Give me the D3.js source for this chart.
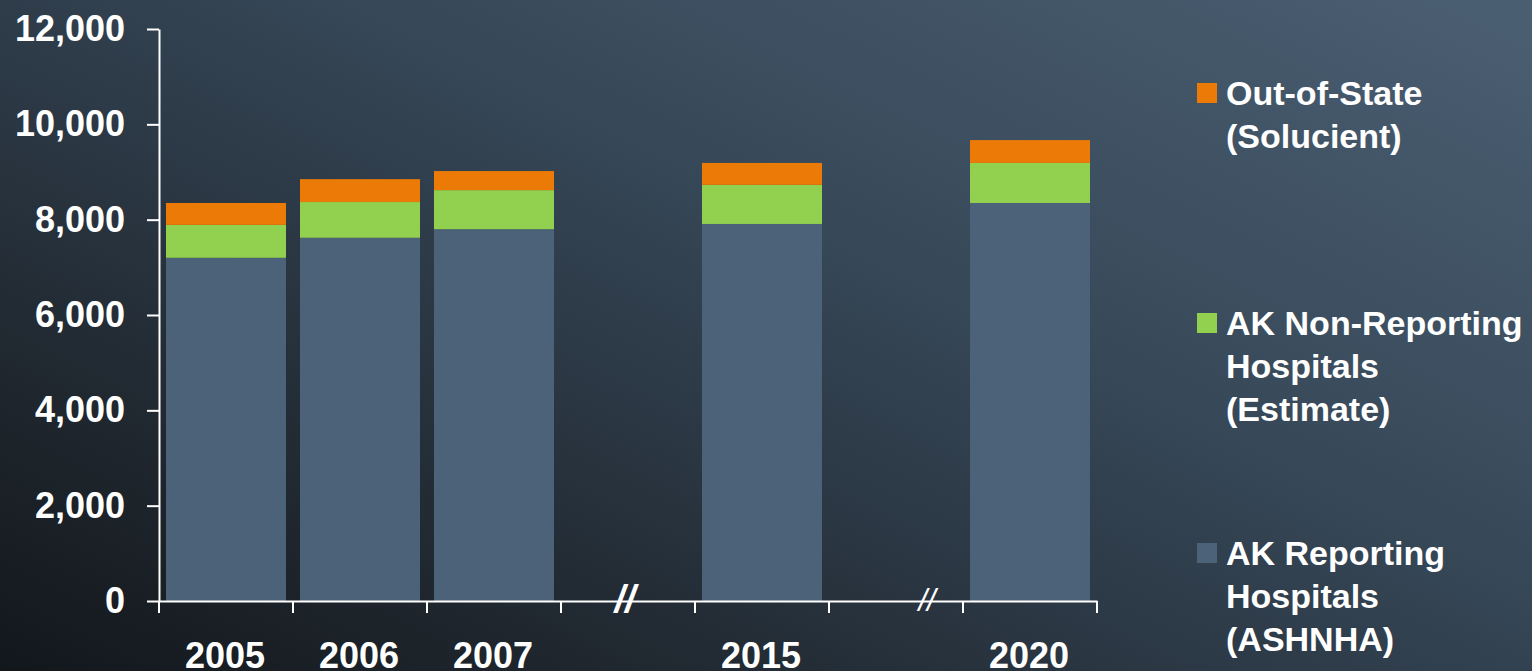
<!DOCTYPE html>
<html>
<head>
<meta charset="utf-8">
<script src="https://cdn.jsdelivr.net/npm/d3@7"></script>
<style>
  html, body { margin:0; padding:0; background:#1b2128; }
  svg { display:block; }
  text { font-family:"Liberation Sans", Arial, sans-serif; font-weight:bold; fill:#ffffff; }
</style>
</head>
<body>
<svg id="chart" width="1532" height="671"></svg>
<script>
// categories on the x axis (gaps hold the "//" break marks)
const slots = ["2005","2006","2007","gap1","2015","gap2","2020"];
const years = ["2005","2006","2007","2015","2020"];
// series
const reporting    = [7200, 7620, 7800, 7910, 8350];
const nonReporting = [ 690,  750,  820,  820,  840];
const outOfState   = [ 460,  480,  400,  460,  480];
const yTicks = [0,2000,4000,6000,8000,10000,12000];
const seriesKeys = ["rep","non","out"];
const colors = {rep:"#4c6279", non:"#92d050", out:"#eb7a07"};
const legendLines = {
  out:["Out-of-State","(Solucient)"],
  non:["AK Non-Reporting","Hospitals","(Estimate)"],
  rep:["AK Reporting","Hospitals","(ASHNHA)"]
};

const W=1532, H=671;
const svg = d3.select("#chart");

// background gradient, dark at bottom left, lighter towards top right
const defs = svg.append("defs");
const grad = defs.append("linearGradient").attr("id","bg")
  .attr("gradientUnits","userSpaceOnUse")
  .attr("x1",0).attr("y1",H).attr("x2",567).attr("y2",-477);
grad.append("stop").attr("offset",0).attr("stop-color","#12171c");
grad.append("stop").attr("offset",0.19).attr("stop-color","#1e252c");
grad.append("stop").attr("offset",0.47).attr("stop-color","#2f3d4b");
grad.append("stop").attr("offset",0.62).attr("stop-color","#384a5a");
grad.append("stop").attr("offset",1).attr("stop-color","#4b5f73");
svg.append("rect").attr("width",W).attr("height",H).attr("fill","url(#bg)");

const x = d3.scaleBand().domain(slots).range([159,1097])
  .paddingInner(0.1045).paddingOuter(0.0522);
const y = d3.scaleLinear().domain([0,12000]).range([601,29]);

const rows = years.map((yr,i)=>({year:yr, rep:reporting[i], non:nonReporting[i], out:outOfState[i]}));
const stacked = d3.stack().keys(seriesKeys)(rows);

svg.append("g").selectAll("g")
  .data(stacked)
  .join("g")
  .attr("fill",d=>colors[d.key])
  .selectAll("rect")
  .data(d=>d)
  .join("rect")
  .attr("x",d=>x(d.data.year))
  .attr("width",x.bandwidth())
  .attr("y",d=>y(d[1]))
  .attr("height",d=>y(d[0])-y(d[1]));

// y axis
const yAxis = svg.append("g")
  .attr("transform","translate(159,0)")
  .call(d3.axisLeft(y).tickValues(yTicks).tickFormat(d3.format(",")).tickSize(12).tickSizeOuter(0).tickPadding(22));
yAxis.selectAll("line, path").attr("stroke","#ffffff").attr("stroke-width",2);
yAxis.selectAll("text").style("font-size","36px").attr("fill","#fff");

// x axis: labels at band centres, ticks on band boundaries
const xAxis = svg.append("g")
  .attr("transform","translate(0,601)")
  .call(d3.axisBottom(x).tickSize(0).tickSizeOuter(0).tickPadding(41)
    .tickFormat(d=>d.startsWith("gap")?"":d));
xAxis.select("path").attr("stroke","#ffffff").attr("stroke-width",2);
xAxis.selectAll("text").style("font-size","36px").attr("fill","#fff").attr("dx","-1");
const bounds = d3.range(slots.length+1).map(i=>x.range()[0]+i*x.step());
xAxis.selectAll("line.bound")
  .data(bounds)
  .join("line")
  .attr("class","bound")
  .attr("x1",d=>d).attr("x2",d=>d)
  .attr("y1",0).attr("y2",12)
  .attr("stroke","#ffffff").attr("stroke-width",2);

// break marks
svg.append("text")
  .attr("x",x("gap1")+x.bandwidth()/2-3).attr("y",612)
  .attr("text-anchor","middle")
  .style("font-size","38px").style("font-style","italic")
  .text("//");
svg.append("text")
  .attr("x",x("gap2")+x.bandwidth()/2+31).attr("y",611)
  .attr("text-anchor","middle")
  .style("font-size","31px").style("font-style","italic").style("font-weight","normal")
  .text("//");

// legend
const legendOrder = ["out","non","rep"];
const lg = svg.append("g").selectAll("g")
  .data(legendOrder)
  .join("g")
  .attr("transform",(d,i)=>"translate(1197,"+(83+i*230)+")");
lg.append("rect").attr("width",20).attr("height",20).attr("fill",d=>colors[d]);
lg.append("text")
  .style("font-size","34px")
  .selectAll("tspan")
  .data(d=>legendLines[d])
  .join("tspan")
  .attr("x",29)
  .attr("y",(d,i)=>22+i*43)
  .text(d=>d);
</script>
</body>
</html>
